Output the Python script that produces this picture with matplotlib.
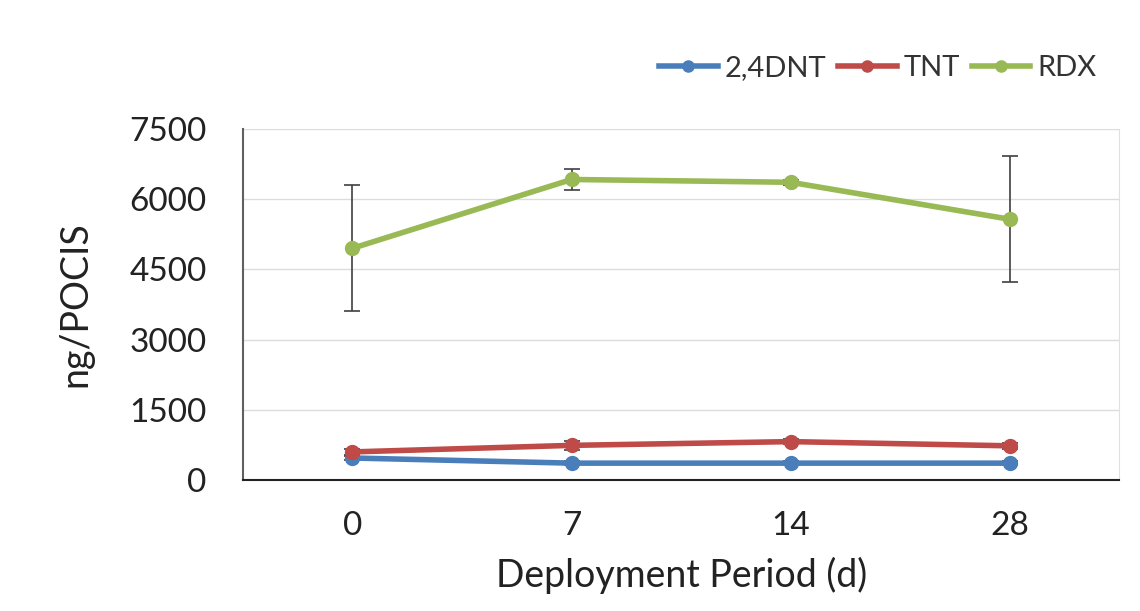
import matplotlib
matplotlib.use("Agg")
import matplotlib.pyplot as plt
from matplotlib.lines import Line2D

plt.rcParams['font.family'] = ['Lato', 'DejaVu Sans']

categories = ["0", "7", "14", "28"]
dnt = [470, 360, 360, 360]
dnt_err = [40, 40, 40, 40]
tnt = [600, 740, 820, 730]
tnt_err = [60, 100, 60, 60]
rdx = [4950, 6420, 6360, 5570]
rdx_err = [1350, 220, 50, 1350]
yticks = [0, 1500, 3000, 4500, 6000, 7500]

colors = {"2,4DNT": "#4a7ebb", "TNT": "#be4b48", "RDX": "#98b954"}

fig = plt.figure(figsize=(11.4, 6.11), dpi=100)
ax = fig.add_axes([0.213, 0.2144, 0.769, 0.5746])
x = list(range(len(categories)))

for name, vals, errs in [("2,4DNT", dnt, dnt_err), ("TNT", tnt, tnt_err), ("RDX", rdx, rdx_err)]:
    ax.errorbar(x, vals, yerr=errs, color=colors[name], lw=4, marker='o', ms=10,
                ecolor='#404040', elinewidth=1.2, capsize=6, capthick=1.2,
                label=name, zorder=3)

ax.set_xlim(-0.5, 3.5)
ax.set_ylim(0, 7500)
ax.set_xticks(x)
ax.set_xticklabels(categories)
ax.set_yticks(yticks)
ax.tick_params(axis='both', length=0, labelsize=24, colors='#222222')
ax.tick_params(axis='y', pad=26)
ax.tick_params(axis='x', pad=22)
ax.grid(axis='y', color='#dcdcdc', lw=1)
ax.set_axisbelow(True)
ax.spines['top'].set_visible(False)
ax.spines['right'].set_color('#e0e0e0')
ax.spines['left'].set_color('#606060')
ax.spines['left'].set_linewidth(1.5)
ax.spines['bottom'].set_color('#222222')
ax.spines['bottom'].set_linewidth(1.5)

ax.set_xlabel("Deployment Period (d)", fontsize=27, color='#222222', labelpad=12)
ax.set_ylabel("ng/POCIS", fontsize=27, color='#222222', labelpad=26)

h, l = ax.get_legend_handles_labels()
handles = [Line2D([0], [0], color=colors[n], lw=4, marker='o', ms=8) for n in l]
fig.legend(handles, l, loc='center right', bbox_to_anchor=(0.985, 0.888), ncol=3,
           frameon=False, fontsize=21, handlelength=2.0, handletextpad=0.25,
           columnspacing=0.4, labelcolor='#333333')

fig.savefig("out.png", dpi=100, facecolor='white')
